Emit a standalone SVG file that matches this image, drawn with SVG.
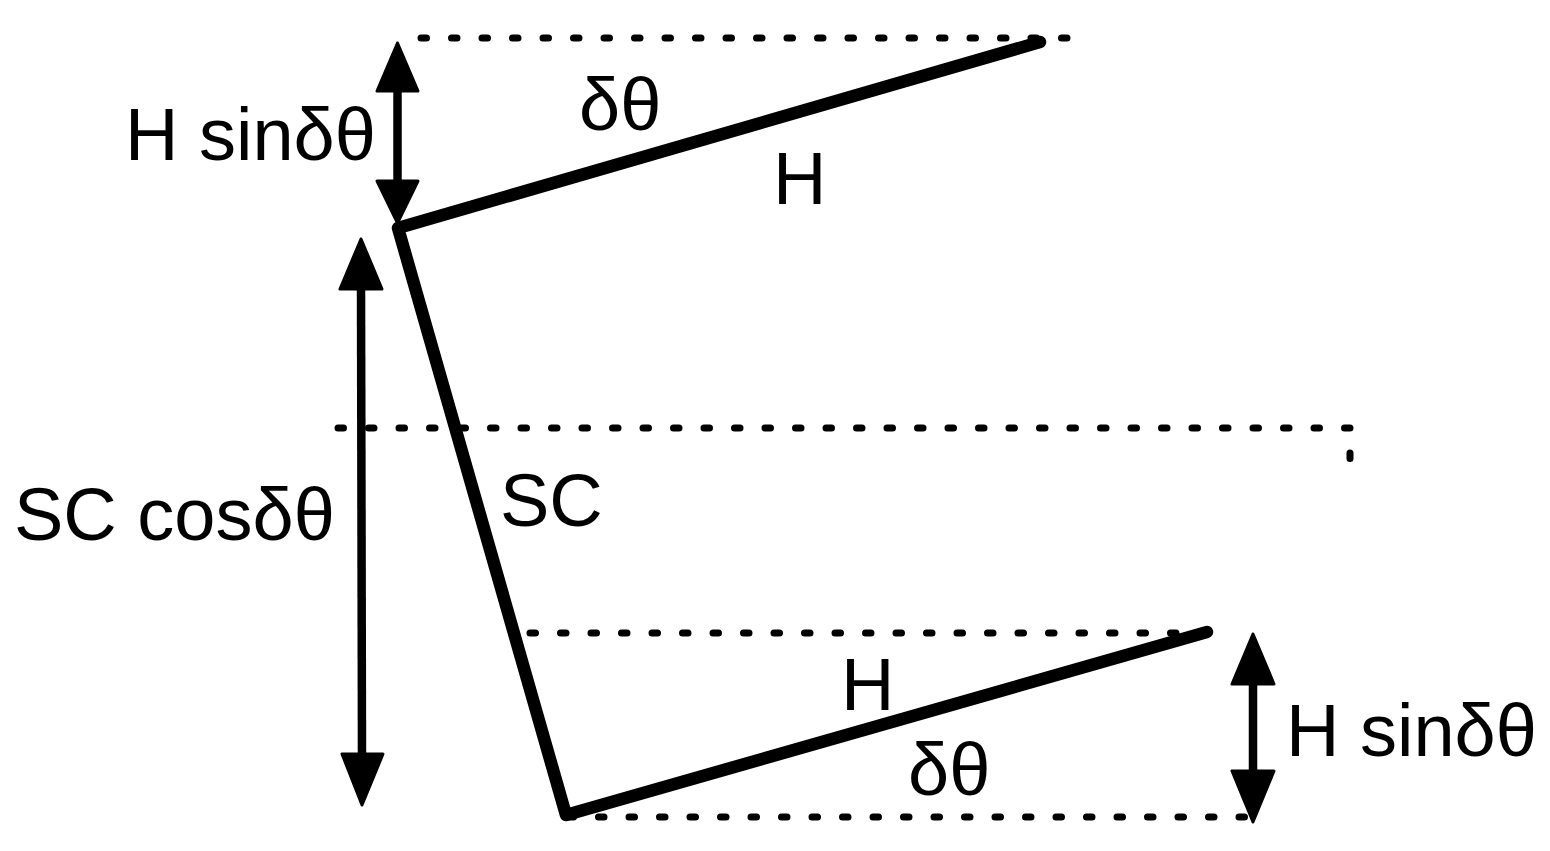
<svg xmlns="http://www.w3.org/2000/svg" width="1550" height="851" viewBox="0 0 1550 851">
<style>
.dot{fill:none;stroke:#000;stroke-width:7;stroke-linecap:round;stroke-dasharray:5.5 25}
.bar{fill:none;stroke:#000;stroke-width:12.5;stroke-linecap:round;stroke-linejoin:round}
.shaft{stroke:#000;stroke-width:8.5}
.head{fill:#000;stroke:#000;stroke-width:3;stroke-linejoin:round}
.t{font-family:"Liberation Sans",Arial,sans-serif;font-size:74px;fill:#000}
</style>
<rect width="1550" height="851" fill="#fff"/>
<g id="guides">
<path class="dot" d="M421 38 L1078 38"/>
<path class="dot" d="M338 428 L1350 428 L1350 460"/>
<path class="dot" d="M530 633 L1200 633"/>
<path class="dot" d="M568 817 L1250 817"/>
</g>
<g id="members">
<path class="bar" d="M1040 42 L398 228 L566 815 L1207 632"/>
</g>
<g id="connectors">
<g id="arrow-top">
<line class="shaft" x1="397.5" y1="80" x2="397.5" y2="190"/>
<polygon class="head" points="397.5,43 377,91 418,91"/>
<polygon class="head" points="397.5,223 377,181 418,181"/>
</g>
<g id="arrow-left">
<line class="shaft" x1="361" y1="280" x2="362" y2="760"/>
<polygon class="head" points="361,239 340,289 382,289"/>
<polygon class="head" points="362,805 342,754 383,754"/>
</g>
<g id="arrow-right">
<line class="shaft" x1="1253" y1="675" x2="1253" y2="780"/>
<polygon class="head" points="1253,634 1232,684 1274,684"/>
<polygon class="head" points="1253,822 1232,771 1274,771"/>
</g>
</g>
<g id="labels">
<text class="t" x="125" y="160">H sinδθ</text>
<text class="t" x="579" y="130">δθ</text>
<text class="t" x="773" y="204">H</text>
<text class="t" x="14" y="540">SC cosδθ</text>
<text class="t" x="500" y="526">SC</text>
<text class="t" x="841" y="710">H</text>
<text class="t" x="908" y="795">δθ</text>
<text class="t" x="1286" y="756">H sinδθ</text>
</g>
</svg>
